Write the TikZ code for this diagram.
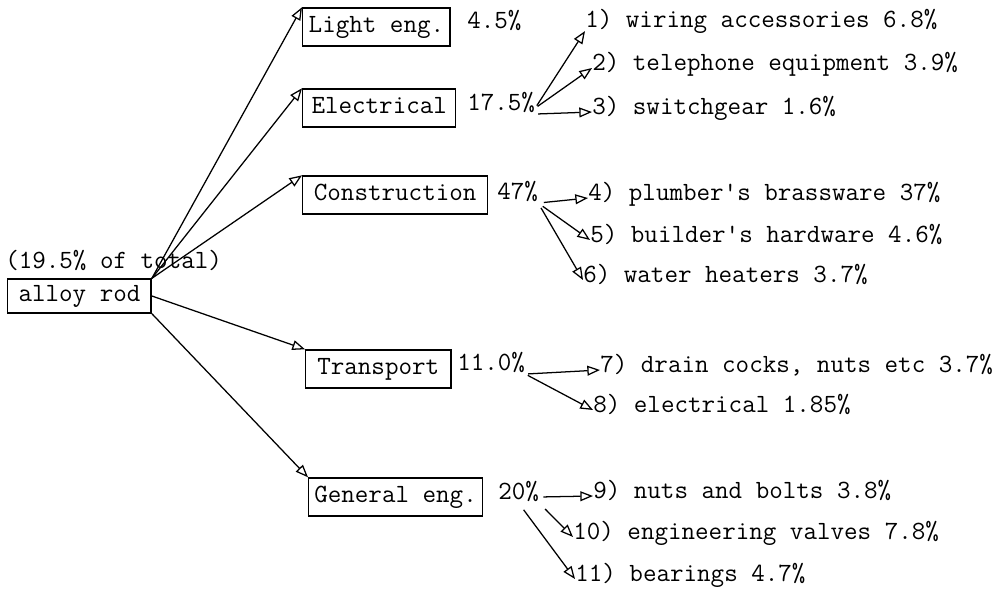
\documentclass[tikz,border=0pt]{standalone}
\usepackage{fontspec}
\usetikzlibrary{arrows.meta}

\begin{document}
\begin{tikzpicture}[
    x=0.025cm, y=-0.025cm,
    >={Triangle[open, length=9pt, width=7pt]},
    typed/.style={font=\ttfamily\fontsize{18.7}{22}\selectfont, text height=0.62em, text depth=0.2em},
    box/.style={typed, draw, line width=1pt, anchor=west, inner xsep=0.22cm, minimum height=0.95cm, text height=0.72em, text depth=0pt},
    pct/.style={typed, anchor=west, inner sep=0pt},
    item/.style={typed, anchor=west, inner sep=0pt}
]
    \useasboundingbox (0,0) rectangle (1004,594);

    % Source
    \node[pct] (total) at (5,266) {(19.5\% of total)};
    \node[box, inner xsep=0.27cm, minimum height=0.85cm] (rod) at (7,296) {alloy rod};

    % Branches
    \node[box, inner xsep=0.15cm] (light) at (302,27) {Light eng.};
    \node[box] (elec) at (302,108) {Electrical};
    \node[box, inner xsep=0.28cm] (constr) at (302,195) {Construction};
    \node[box, inner xsep=0.29cm] (trans) at (305,369) {Transport};
    \node[box, inner xsep=0.14cm] (geneng) at (308,497) {General eng.};

    % Shares of the branches
    \node[pct] (plight) at (467,26) {4.5\%};
    \node[pct] (pelec) at (467,108) {17.5\%};
    \node[pct] (pcon) at (497,197) {47\%};
    \node[pct] (ptrans) at (457,368) {11.0\%};
    \node[pct] (pgen) at (498,497) {20\%};

    % End uses
    \node[item] (i1) at (585,25) {1) wiring accessories 6.8\%};
    \node[item] (i2) at (592,68) {2) telephone equipment 3.9\%};
    \node[item] (i3) at (592,112) {3) switchgear 1.6\%};
    \node[item] (i4) at (588,198) {4) plumber's brassware 37\%};
    \node[item] (i5) at (590,240) {5) builder's hardware 4.6\%};
    \node[item] (i6) at (583,280) {6) water heaters 3.7\%};
    \node[item] (i7) at (600,370) {7) drain cocks, nuts etc 3.7\%};
    \node[item] (i8) at (593,410) {8) electrical 1.85\%};
    \node[item] (i9) at (593,496) {9) nuts and bolts 3.8\%};
    \node[item] (i10) at (573,537) {10) engineering valves 7.8\%};
    \node[item] (i11) at (575,579) {11) bearings 4.7\%};

    % Arrows from the rod
    \draw[->, line width=0.9pt] (rod.north east) -- (light.north west);
    \draw[->, line width=0.9pt] (rod.north east) -- (elec.north west);
    \draw[->, line width=0.9pt] (rod.north east) -- (constr.north west);
    \draw[->, line width=0.9pt] (rod.east) -- (trans.north west);
    \draw[->, line width=0.9pt] (rod.south east) -- (geneng.north west);

    % Arrows to the end uses
    \draw[->, line width=0.9pt, shorten <=2pt] (pelec.east) -- (i1.south west);
    \draw[->, line width=0.9pt, shorten <=2pt] (pelec.east) -- (i2.west);
    \draw[->, line width=0.9pt, shorten <=2pt] (pelec.south east) -- (i3.west);
    \draw[->, line width=0.9pt, shorten <=4pt] (pcon.south east) -- (i4.west);
    \draw[->, line width=0.9pt, shorten <=4pt] (pcon.south east) -- (i5.west);
    \draw[->, line width=0.9pt, shorten <=4pt] (pcon.south east) -- (i6.west);
    \draw[->, line width=0.9pt, shorten <=2pt] (ptrans.south east) -- (i7.west);
    \draw[->, line width=0.9pt, shorten <=2pt] (ptrans.south east) -- (i8.west);
    \draw[->, line width=0.9pt, shorten <=3pt] (pgen.east) -- (i9.west);
    \draw[->, line width=0.9pt, shorten <=6pt] (pgen.south east) -- (i10.west);
    \draw[->, line width=0.9pt, shorten <=6pt] (pgen.south) -- (i11.west);

\end{tikzpicture}
\end{document}
